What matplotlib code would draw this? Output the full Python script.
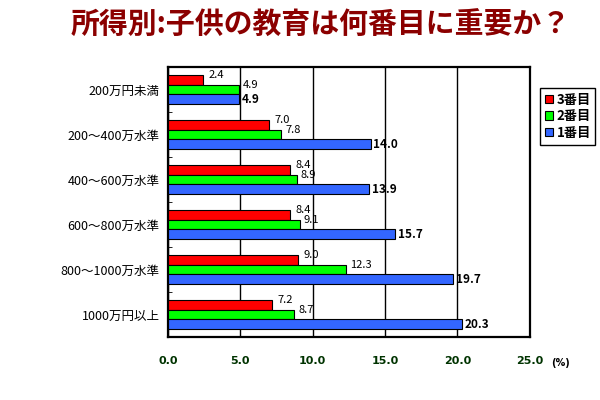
import matplotlib
matplotlib.use('Agg')
import matplotlib.pyplot as plt
import numpy as np

plt.rcParams['font.family'] = ['Noto Sans CJK JP', 'DejaVu Sans']

categories = ['200万円未満', '200～400万水準', '400～600万水準',
              '600～800万水準', '800～1000万水準', '1000万円以上']
series_names = ['3番目', '2番目', '1番目']
third = [2.4, 7.0, 8.4, 8.4, 9.0, 7.2]
second = [4.9, 7.8, 8.9, 9.1, 12.3, 8.7]
first = [4.9, 14.0, 13.9, 15.7, 19.7, 20.3]
colors = ['#ff0000', '#00ff00', '#3366ff']
xticks = [0, 5, 10, 15, 20, 25]

fig = plt.figure(figsize=(6, 4), dpi=100)
ax = fig.add_axes([0.28, 0.1575, 0.603, 0.675])

y = np.arange(len(categories))
h = 0.222
offsets = [-h, 0, h]
for vals, off, col, name in zip([third, second, first], offsets, colors, series_names):
    ax.barh(y + off, vals, height=h, color=col, edgecolor='black', linewidth=0.8,
            label=name, zorder=3)

for i in range(len(categories)):
    ax.annotate(f'{third[i]:.1f}', xy=(third[i], y[i] - 1.5 * h), xytext=(4, 0),
                textcoords='offset points', va='center', ha='left', fontsize=8)
    ax.annotate(f'{second[i]:.1f}', xy=(second[i], y[i] - 0.5 * h), xytext=(3, 0),
                textcoords='offset points', va='center', ha='left', fontsize=8)
    ax.annotate(f'{first[i]:.1f}', xy=(first[i], y[i] + h), xytext=(2, 0),
                textcoords='offset points', va='center', ha='left', fontsize=8.5,
                fontweight='bold')

ax.set_xlim(0, 25)
ax.set_ylim(len(categories) - 0.5, -0.5)
ax.set_xticks(xticks)
ax.set_xticklabels([f'{t:.1f}' for t in xticks], fontweight='bold', color='#003300',
                   fontsize=8, family='DejaVu Sans')
ax.tick_params(axis='x', length=0, pad=14)
ax.set_yticks(y)
ax.set_yticklabels(categories, fontsize=9)
ax.set_yticks(np.arange(len(categories) + 1) - 0.5, minor=True)
ax.tick_params(axis='y', which='major', length=0, pad=6)
ax.tick_params(axis='y', which='minor', length=3, direction='in')
ax.xaxis.grid(True, color='black', linewidth=1, zorder=1)
ax.set_axisbelow(True)
for s in ax.spines.values():
    s.set_linewidth(1.6)

fig.text(0.935, 0.0925, '(%)', fontsize=7, fontweight='bold', ha='center', va='center',
         family='DejaVu Sans')

leg = fig.legend(loc='upper left', bbox_to_anchor=(0.9, 0.78), borderaxespad=0,
                 fancybox=False, edgecolor='black', framealpha=1, handlelength=0.6,
                 handleheight=0.6, handletextpad=0.3, labelspacing=0.2,
                 borderpad=0.35, prop={'weight': 'bold', 'size': 9.5})
leg.get_frame().set_linewidth(1)

fig.text(0.535, 0.937, '所得別:子供の教育は何番目に重要か？', fontsize=20.8,
         fontweight='bold', color='#8b0000', ha='center', va='center')

fig.savefig('out.png', dpi=100)
